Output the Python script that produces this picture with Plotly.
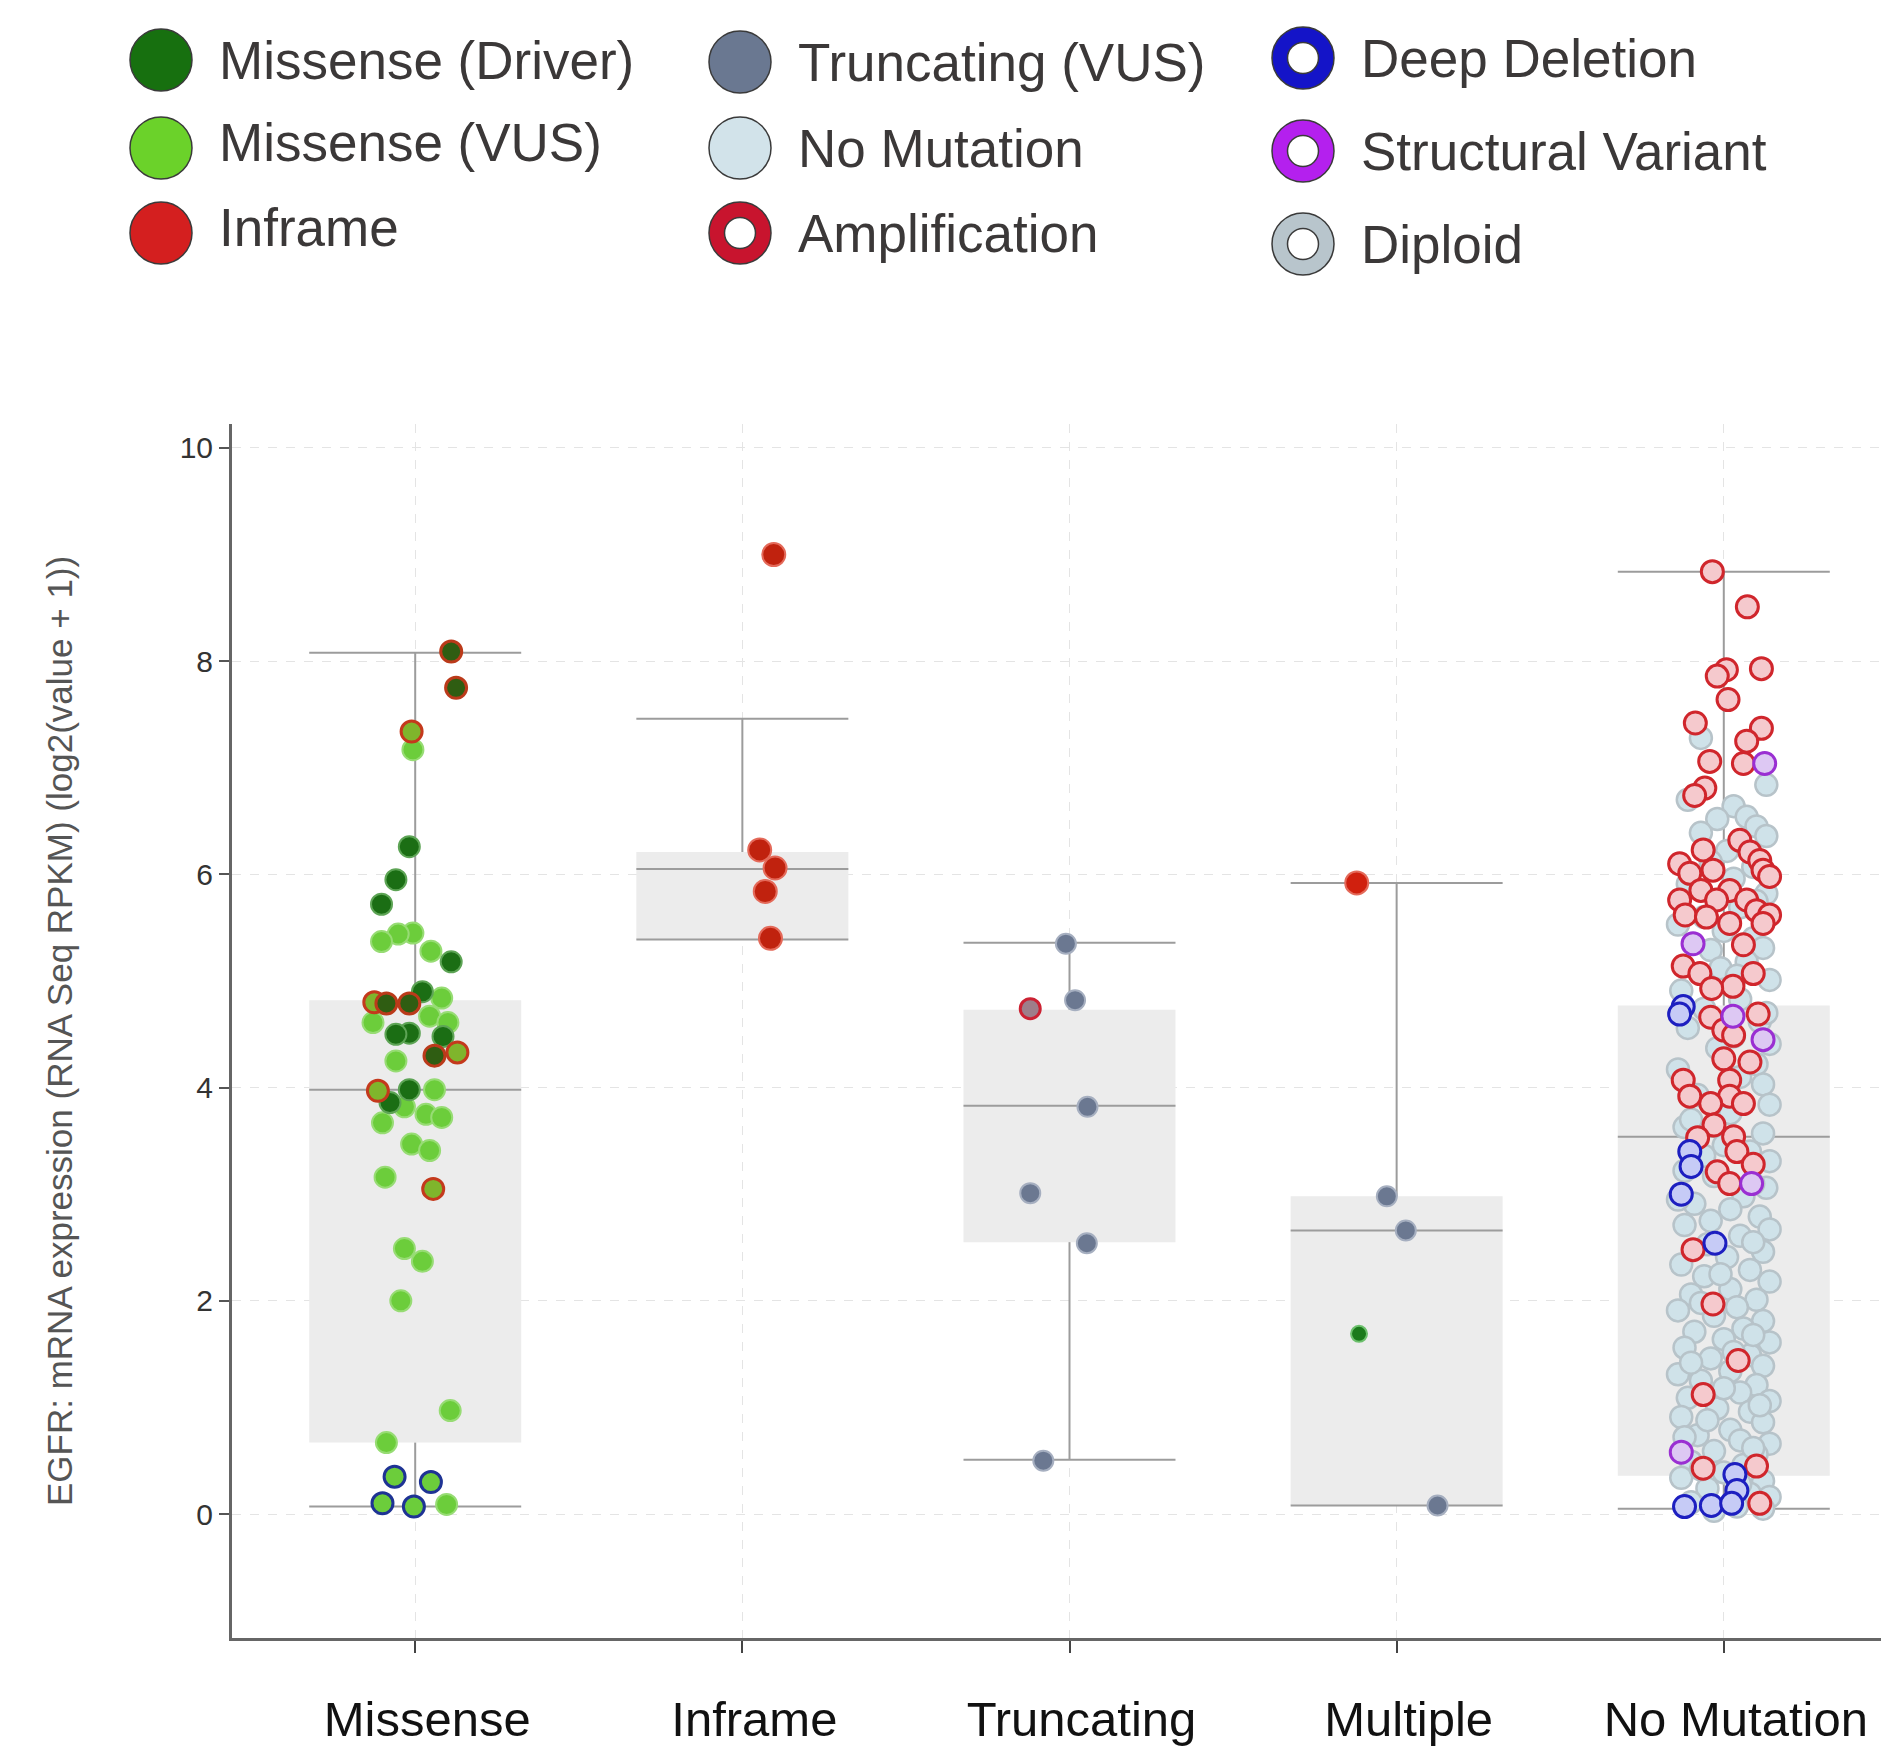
import plotly.graph_objects as go

# ---------------- data ----------------
categories = ["Missense", "Inframe", "Truncating", "Multiple", "No Mutation"]
y_ticks = [0, 2, 4, 6, 8, 10]
y_title = "EGFR: mRNA expression (RNA Seq RPKM) (log2(value + 1))"

# box summaries
box_lower = [0.07, 5.39, 0.51, 0.08, 0.05]
box_q1 = [0.67, 5.39, 2.55, 0.08, 0.36]
box_median = [3.98, 6.05, 3.83, 2.66, 3.54]
box_q3 = [4.82, 6.21, 4.73, 2.98, 4.77]
box_upper = [8.08, 7.46, 5.36, 5.92, 8.84]

# samples: values and the horizontal jitter seen in the picture (category units)
mis_drv_y = [6.26, 5.95, 5.72, 5.18, 4.90, 4.51, 4.50, 4.48, 3.98, 3.86]
mis_drv_j = [-0.018, -0.059, -0.103, 0.11, 0.022, -0.018, -0.059, 0.085, -0.018, -0.077]
mis_drv_amp_y = [8.09, 7.75, 4.79, 4.79, 4.30]
mis_drv_amp_j = [0.11, 0.125, -0.088, -0.018, 0.059]
mis_vus_amp_y = [7.34, 4.80, 4.33, 3.97, 3.05]
mis_vus_amp_j = [-0.011, -0.125, 0.129, -0.114, 0.055]
mis_vus_y = [7.17, 5.45, 5.44, 5.37, 5.28, 4.84, 4.67, 4.61, 4.61, 4.25, 3.98, 3.82,
             3.75, 3.72, 3.67, 3.47, 3.41, 3.16, 2.49, 2.37, 2.00, 0.97, 0.67, 0.09]
mis_vus_j = [-0.007, -0.007, -0.052, -0.103, 0.048, 0.081, 0.044, -0.129, 0.10, -0.059, 0.059, -0.033,
             0.033, 0.081, -0.10, -0.011, 0.044, -0.092, -0.033, 0.022, -0.044, 0.107, -0.088, 0.096]
mis_vus_del_y = [0.35, 0.30, 0.10, 0.07]
mis_vus_del_j = [-0.063, 0.048, -0.10, -0.004]

infr_y = [9.00, 6.23, 6.06, 5.84, 5.40]
infr_j = [0.096, 0.053, 0.10, 0.07, 0.086]

trunc_y = [5.35, 4.82, 3.82, 3.01, 2.54, 0.50]
trunc_j = [-0.011, 0.017, 0.055, -0.12, 0.053, -0.08]
trunc_amp_y = [4.74]
trunc_amp_j = [-0.12]

mult_infr_y = [5.92]
mult_infr_j = [-0.122]
mult_trunc_y = [2.98, 2.66, 0.08]
mult_trunc_j = [-0.03, 0.028, 0.125]
mult_drv_y = [1.69]
mult_drv_j = [-0.115]

nm_dip_y = [7.28, 6.84, 6.70, 6.64, 6.54, 6.52, 6.45, 6.39, 6.36, 6.22, 6.12, 6.07, 5.96, 5.91, 5.82,
            5.69, 5.53, 5.47, 5.40, 5.29, 5.31, 5.18, 5.12, 5.01, 4.91, 4.83, 4.74, 4.62, 4.56, 4.41,
            4.37, 4.22, 4.17, 4.03, 3.93, 3.84, 3.76, 3.63, 3.57, 3.46, 3.36, 3.31, 3.17, 3.06, 2.98,
            2.91, 2.86, 2.79, 2.71, 2.67, 2.61, 2.53, 2.46, 2.41, 2.34, 2.29, 2.23, 2.18, 2.11, 2.06,
            2.01, 1.94, 1.91, 1.86, 1.81, 1.74, 1.71, 1.64, 1.61, 1.56, 1.49, 1.46, 1.39, 1.34, 1.31,
            1.25, 1.21, 1.14, 1.09, 1.06, 0.99, 0.96, 0.91, 0.86, 0.79, 0.74, 0.69, 0.66, 0.59, 0.56,
            0.49, 0.46, 0.39, 0.34, 0.31, 0.24, 0.19, 0.16, 0.11, 0.07, 0.05, 0.03, 2.95, 2.55, 2.25,
            1.98, 1.68, 1.42, 1.18, 0.88, 0.62, 0.42, 3.70, 3.40, 3.10, 4.10, 4.48, 4.70, 5.05, 5.60,
            5.75, 3.22, 2.75, 1.52, 1.02, 0.72, 0.28]
nm_dip_j = [-0.07, 0.13, -0.11, 0.03, 0.07, -0.02, 0.10, -0.07, 0.13, 0.01, -0.04, 0.09, 0.03, -0.11, 0.13,
            0.05, -0.14, 0.00, 0.09, -0.04, 0.12, 0.07, -0.01, 0.14, -0.13, 0.05, -0.06, 0.11, -0.11, 0.14,
            -0.02, 0.10, -0.14, 0.12, -0.08, 0.14, 0.02, -0.12, 0.12, 0.00, -0.06, 0.14, -0.03, 0.13, 0.06,
            -0.09, 0.02, 0.11, -0.12, 0.14, 0.05, -0.05, 0.12, 0.01, -0.13, 0.08, -0.06, 0.14, 0.02, -0.10,
            0.10, 0.04, -0.14, -0.03, 0.12, 0.06, -0.09, 0.00, 0.14, -0.12, 0.08, -0.04, 0.12, 0.02, -0.14,
            -0.07, 0.10, 0.05, -0.11, 0.14, -0.02, 0.08, -0.13, 0.12, 0.02, -0.08, 0.05, 0.14, -0.03, 0.10,
            -0.10, 0.06, 0.00, -0.13, 0.12, -0.05, 0.08, 0.14, -0.10, 0.04, 0.12, -0.03, -0.14, 0.09, -0.01,
            -0.07, 0.09, -0.10, 0.00, -0.05, 0.09, -0.07, -0.10, 0.08, 0.09, 0.05, 0.03, 0.13, 0.04, -0.06,
            0.10, -0.12, -0.04, 0.03, 0.11, -0.12, 0.05]
nm_amp_y = [8.84, 8.51, 7.93, 7.92, 7.86, 7.64, 7.42, 7.37, 7.25, 7.06, 7.04, 6.81, 6.74, 6.32, 6.23,
            6.21, 6.13, 6.10, 6.04, 6.04, 6.01, 5.98, 5.85, 5.85, 5.76, 5.76, 5.76, 5.66, 5.62, 5.62,
            5.60, 5.54, 5.54, 5.34, 5.14, 5.07, 5.07, 4.95, 4.93, 4.69, 4.66, 4.54, 4.49, 4.27, 4.24,
            4.07, 4.07, 3.92, 3.92, 3.85, 3.85, 3.65, 3.53, 3.54, 3.40, 3.28, 3.21, 3.10, 2.48, 1.97,
            1.44, 1.12, 0.45, 0.43, 0.10]
nm_amp_j = [-0.035, 0.072, 0.115, 0.008, -0.02, 0.013, -0.087, 0.115, 0.07, -0.043, 0.06, -0.058, -0.089, 0.049, -0.063,
            0.08, 0.11, -0.135, 0.12, -0.033, -0.104, 0.14, 0.018, -0.07, -0.135, -0.022, 0.07, 0.10, 0.14, -0.118,
            -0.053, 0.018, 0.12, 0.06, -0.124, -0.073, 0.09, 0.028, -0.037, 0.105, -0.04, 0.0, 0.03, 0.0, 0.08,
            -0.124, 0.018, -0.104, 0.018, -0.04, 0.06, -0.03, -0.08, 0.03, 0.04, 0.09, -0.02, 0.018, -0.094, -0.033,
            0.044, -0.063, 0.10, -0.063, 0.11]
nm_sv_y = [7.04, 5.35, 4.67, 4.45, 3.10, 0.58]
nm_sv_j = [0.125, -0.094, 0.028, 0.12, 0.085, -0.13]
nm_del_y = [4.76, 4.69, 3.40, 3.26, 3.00, 2.54, 0.37, 0.22, 0.07, 0.08, 0.10]
nm_del_j = [-0.124, -0.135, -0.104, -0.10, -0.13, -0.027, 0.034, 0.04, -0.12, -0.038, 0.024]

legend_labels = ["Missense (Driver)", "Missense (VUS)", "Inframe",
                 "Truncating (VUS)", "No Mutation", "Amplification",
                 "Deep Deletion", "Structural Variant", "Diploid"]
legend_colors = ["#17700f", "#6bd22a", "#d41f1f",
                 "#6a7891", "#d2e3ea", "#c8142e",
                 "#1414c8", "#b420ee", "#b8c5cc"]
legend_is_ring = [False, False, False, False, False, True, True, True, True]

# ---------------- styles / layout ----------------
FONT = "Liberation Sans, Arial, Helvetica, sans-serif"
BOX_HALF = 0.324
PAGE_OFFSET = 8                       # default body margin of the html page
W, H = 1889 - PAGE_OFFSET, 1751 - PAGE_OFFSET
PLOT_L, PLOT_T, PLOT_B = 224, 416, 1630

# (category index, values, jitter, fill, line colour, line width, size)
groups = [
    (4, nm_dip_y, nm_dip_j, "#cfe2e9", "#b7c3c9", 2.5, 22),
    (4, nm_amp_y, nm_amp_j, "#f5c9cd", "#d0262c", 3, 22),
    (4, nm_sv_y, nm_sv_j, "#ddc8f3", "#9a2fd2", 3, 22),
    (4, nm_del_y, nm_del_j, "#c6cbf6", "#1d1fc0", 3, 22),
    (0, mis_vus_y, mis_vus_j, "#6ccd3b", "#97dc74", 2, 21),
    (0, mis_drv_y, mis_drv_j, "#1b6e14", "#5da455", 2, 21),
    (0, mis_vus_amp_y, mis_vus_amp_j, "#7fb52c", "#c4391c", 3, 21),
    (0, mis_drv_amp_y, mis_drv_amp_j, "#2f5d12", "#bb3a1a", 3, 21),
    (0, mis_vus_del_y, mis_vus_del_j, "#6ccd3b", "#1e3394", 3, 21),
    (1, infr_y, infr_j, "#c0220e", "#e46a5a", 2, 23),
    (2, trunc_y, trunc_j, "#6b7891", "#a6afc0", 2, 20),
    (2, trunc_amp_y, trunc_amp_j, "#9e7e8a", "#cc2233", 3, 20),
    (3, mult_infr_y, mult_infr_j, "#d0200e", "#e46a5a", 2, 23),
    (3, mult_trunc_y, mult_trunc_j, "#6b7891", "#a6afc0", 2, 20),
    (3, mult_drv_y, mult_drv_j, "#1b7a1b", "#6cc06c", 2, 16),
]

fig = go.Figure()

# boxes (fill only)
fig.add_trace(go.Box(
    x=list(range(len(categories))), q1=box_q1, median=box_median, q3=box_q3,
    lowerfence=box_lower, upperfence=box_upper, width=2 * BOX_HALF,
    fillcolor="#ececec", line=dict(width=0, color="rgba(0,0,0,0)"),
    boxpoints=False, showlegend=False, hoverinfo="skip", xaxis="x", yaxis="y"))

# median, whiskers and caps
lx, ly = [], []
for i in range(len(categories)):
    for v in (box_median[i], box_upper[i], box_lower[i]):
        lx += [i - BOX_HALF, i + BOX_HALF, None]
        ly += [v, v, None]
    lx += [i, i, None, i, i, None]
    ly += [box_q3[i], box_upper[i], None, box_lower[i], box_q1[i], None]
fig.add_trace(go.Scatter(x=lx, y=ly, mode="lines", line=dict(color="#9c9c9c", width=2),
                         showlegend=False, hoverinfo="skip", xaxis="x", yaxis="y"))

# sample points
for ci, ys, js, fill, lc, lw, sz in groups:
    fig.add_trace(go.Scatter(
        x=[ci + j for j in js], y=ys, mode="markers",
        marker=dict(size=sz, color=fill, line=dict(color=lc, width=lw)),
        showlegend=False, hoverinfo="y", xaxis="x", yaxis="y"))

# custom legend (drawn on its own pixel-scaled axes)
LEG_COL_X = [153, 732, 1295]
LEG_ROWS = [[52, 140, 225], [54, 140, 225], [50, 143, 236]]
leg_x = [LEG_COL_X[i // 3] for i in range(len(legend_labels))]
leg_y = [LEG_ROWS[i // 3][i % 3] for i in range(len(legend_labels))]
fig.add_trace(go.Scatter(
    x=leg_x, y=leg_y, mode="markers",
    marker=dict(size=62, color=legend_colors, line=dict(color="#3a3a3a", width=1.5)),
    showlegend=False, hoverinfo="skip", xaxis="x2", yaxis="y2"))
ring_x = [x for x, r in zip(leg_x, legend_is_ring) if r]
ring_y = [y for y, r in zip(leg_y, legend_is_ring) if r]
fig.add_trace(go.Scatter(
    x=ring_x, y=ring_y, mode="markers",
    marker=dict(size=31, color="white", line=dict(color="#3a3a3a", width=1.5)),
    showlegend=False, hoverinfo="skip", xaxis="x2", yaxis="y2"))
for k, (lab, x, y) in enumerate(zip(legend_labels, leg_x, leg_y)):
    fig.add_annotation(x=x + 56, y=y - (6 if k in (1, 2) else 0), xref="x2", yref="y2",
                       text=lab, showarrow=False, xanchor="left", yanchor="middle",
                       font=dict(family=FONT, size=53, color="#3b3838"))

# y-axis title
fig.add_annotation(x=52 / W, y=1 - (PLOT_T + PLOT_B) / 2 / H, xref="paper", yref="paper",
                   text=y_title, textangle=-90, showarrow=False,
                   xanchor="center", yanchor="middle",
                   font=dict(family=FONT, size=35, color="#555555"))

fig.update_layout(
    width=W, height=H, margin=dict(l=0, r=0, t=0, b=0),
    paper_bgcolor="white", plot_bgcolor="rgba(0,0,0,0)",
    showlegend=False,
    xaxis=dict(domain=[PLOT_L / W, 1], range=[-0.56, 4.505],
               tickmode="array", tickvals=list(range(len(categories))), ticktext=categories,
               tickfont=dict(family=FONT, size=49, color="#111111"),
               ticks="outside", ticklen=12, tickwidth=1.5, tickcolor="#444444",
               ticklabelstandoff=24, ticklabelshift=12,
               showline=True, linecolor="#666666", linewidth=3,
               showgrid=True, gridcolor="#e4e4e4", griddash="dash", gridwidth=1,
               zeroline=False, fixedrange=True),
    yaxis=dict(domain=[1 - PLOT_B / H, 1 - PLOT_T / H], range=[-1.163, 10.225],
               tickmode="array", tickvals=y_ticks,
               tickfont=dict(family=FONT, size=30, color="#333333"),
               ticks="outside", ticklen=10, tickwidth=1.5, tickcolor="#555555",
               showline=True, linecolor="#666666", linewidth=3,
               showgrid=True, gridcolor="#e4e4e4", griddash="dash", gridwidth=1,
               zeroline=False, fixedrange=True),
    xaxis2=dict(domain=[0, 1], range=[0, W], visible=False, fixedrange=True),
    yaxis2=dict(domain=[1 - 290 / H, 1], range=[290, 0], visible=False, fixedrange=True),
)

fig.write_html("out.html")
